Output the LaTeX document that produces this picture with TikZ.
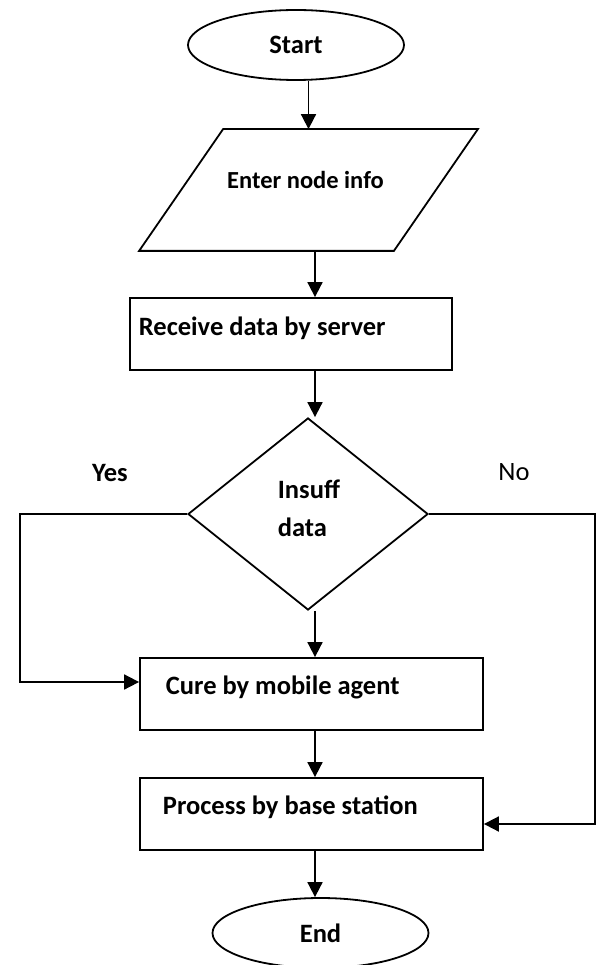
\documentclass[tikz,border=0pt]{standalone}
\usepackage{fontspec}
\setmainfont{Carlito}
\usetikzlibrary{shapes.geometric,arrows.meta,calc}
\tikzset{every picture/.style={line width=1.8pt}}

\begin{document}
\begin{tikzpicture}[x=1pt,y=1pt,yscale=-1,xscale=1,
  term/.style={draw, ellipse, minimum width=216, minimum height=70, inner sep=0pt, font=\fontsize{26.5}{30}\selectfont\bfseries},
  box/.style={draw, rectangle, minimum width=343, minimum height=72, inner sep=0pt},
  txt/.style={inner sep=0pt, font=\fontsize{26.5}{30}\selectfont\bfseries},
  arr/.style={-{Triangle[length=15pt,width=15pt]}}]
\useasboundingbox (0,0) rectangle (596,965);

%Shape: Ellipse
\node[term] (start) at (296,45) {Start};
%Shape: Parallelogram
\node[minimum width=253, minimum height=120, inner sep=0pt] (input) at (308.5,190) {};
\draw ($(input.north west)+(42,0)$) -- ($(input.north east)+(42,0)$) -- ($(input.south east)+(-42,0)$) -- ($(input.south west)+(-42,0)$) -- cycle ;
%Shape: Rectangle
\node[box, minimum width=322] (recv) at (291,334) {};
%Shape: Diamond
\node[draw, diamond, minimum width=240, minimum height=192, inner sep=0pt] (dec) at (308,514) {};
%Shape: Rectangle
\node[box] (cure) at (311.5,694) {};
%Shape: Rectangle
\node[box] (proc) at (311.5,814) {};
%Shape: Ellipse
\node[term] (end) at (320.5,933) {End};

% Text Node
\node[txt, font=\fontsize{24.5}{30}\selectfont\bfseries] (inputT) at (305.5,180) {Enter node info};
% Text Node
\node[txt, anchor=west] (recvT) at (138,328) {Receive data by server};
% Text Node
\node[txt, anchor=west, align=left, font=\fontsize{26.5}{38}\selectfont\bfseries] (decT) at (277,508) {Insuff\\data};
% Text Node
\node[txt, anchor=west] (cureT) at (165,687) {Cure by mobile agent};
% Text Node
\node[txt, anchor=west] (procT) at (162,807) {Process by base station};
% Text Node
\node[txt] (yes) at (110,473) {Yes};
% Text Node
\begin{scope}
\clip (470,440) rectangle (570,479);
\node[inner sep=0pt, font=\fontsize{26.5}{30}\selectfont] (no) at (514,472) {No};
\end{scope}

%Straight Lines
\coordinate (axis) at (315,0);
\coordinate (yesC) at (20,514);
\coordinate (noC) at (595,514);
\draw[arr] (start.south -| input.north) -- (input.north);
\draw[arr] (input.south -| axis) -- (recv.north -| axis);
\draw[arr] (recv.south -| axis) -- (dec.north -| axis);
\draw[arr] (dec.south -| axis) -- (cure.north -| axis);
\draw[arr] (cure.south -| axis) -- (proc.north -| axis);
\draw[arr] (proc.south -| axis) -- (end.north -| axis);
\draw[arr] (dec.west) -- (yesC) |- ($(cure.west)+(0,-12)$);
\draw[arr] (dec.east) -- (noC) |- ($(proc.east)+(0,10)$);

\end{tikzpicture}
\end{document}
